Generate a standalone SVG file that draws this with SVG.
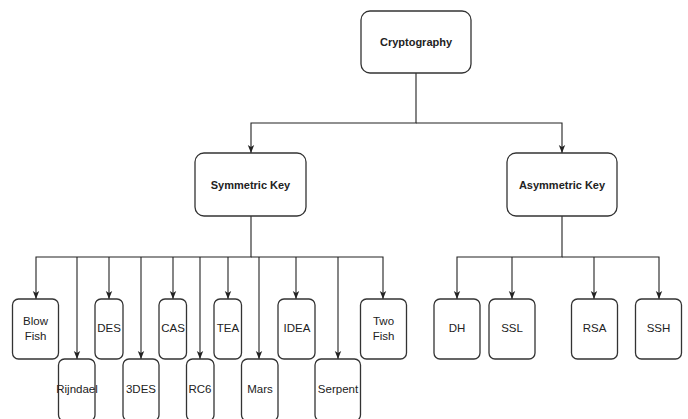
<svg xmlns="http://www.w3.org/2000/svg" width="688" height="419" viewBox="0 0 688 419">
<style>
.box{fill:#fff;stroke:#333;stroke-width:1.3}
.t{font-family:"Liberation Sans",Arial,sans-serif;font-size:11.5px;fill:#222;text-anchor:middle;dominant-baseline:central}
.b{font-weight:bold;font-size:11px}
.c{fill:none;stroke:#222;stroke-width:1.1}
</style>
<defs>
<marker id="ar" viewBox="0 0 10 8" refX="10" refY="4" markerWidth="8" markerHeight="8" markerUnits="userSpaceOnUse" orient="auto">
<path d="M0,0 L10,4 L0,8 L2.5,4 z" fill="#222"/>
</marker>
</defs>
<rect width="688" height="419" fill="#fff"/>
<g id="connectors">
<path class="c" d="M416 73 V123 H251 V153" marker-end="url(#ar)"/>
<path class="c" d="M416 123 H562 V153" marker-end="url(#ar)"/>
<path class="c" d="M251 216 V257 H36 V299" marker-end="url(#ar)"/>
<path class="c" d="M251 257 H383 V299" marker-end="url(#ar)"/>
<path class="c" d="M77 257 V359" marker-end="url(#ar)"/>
<path class="c" d="M109 257 V299" marker-end="url(#ar)"/>
<path class="c" d="M141 257 V359" marker-end="url(#ar)"/>
<path class="c" d="M173 257 V299" marker-end="url(#ar)"/>
<path class="c" d="M200 257 V359" marker-end="url(#ar)"/>
<path class="c" d="M228 257 V299" marker-end="url(#ar)"/>
<path class="c" d="M259 257 V359" marker-end="url(#ar)"/>
<path class="c" d="M296 257 V299" marker-end="url(#ar)"/>
<path class="c" d="M338 257 V359" marker-end="url(#ar)"/>
<path class="c" d="M562 216 V257 H457 V299" marker-end="url(#ar)"/>
<path class="c" d="M562 257 H659 V299" marker-end="url(#ar)"/>
<path class="c" d="M512 257 V299" marker-end="url(#ar)"/>
<path class="c" d="M594 257 V299" marker-end="url(#ar)"/>
</g>
<g id="cryptography"><rect class="box" x="361" y="11" width="110" height="62" rx="9"/><text class="t b" x="416" y="42">Cryptography</text></g>
<g id="symmetric"><rect class="box" x="195" y="153" width="111" height="63" rx="9"/><text class="t b" x="250.5" y="185">Symmetric Key</text></g>
<g id="asymmetric"><rect class="box" x="507" y="153" width="110" height="63" rx="9"/><text class="t b" x="562" y="185">Asymmetric Key</text></g>
<g id="blowfish"><rect class="box" x="12.5" y="299" width="46" height="60" rx="6"/><text class="t" x="35.5" y="321">Blow</text><text class="t" x="35.5" y="336">Fish</text></g>
<g id="rijndael"><rect class="box" x="58.5" y="359" width="36.5" height="62" rx="6"/><text class="t" x="77" y="389">Rijndael</text></g>
<g id="des"><rect class="box" x="95" y="299" width="28" height="60" rx="6"/><text class="t" x="109" y="328">DES</text></g>
<g id="3des"><rect class="box" x="123" y="359" width="36" height="62" rx="6"/><text class="t" x="141" y="389">3DES</text></g>
<g id="cas"><rect class="box" x="159" y="299" width="27.5" height="60" rx="6"/><text class="t" x="173" y="328">CAS</text></g>
<g id="rc6"><rect class="box" x="186.5" y="359" width="27.5" height="62" rx="6"/><text class="t" x="200" y="389">RC6</text></g>
<g id="tea"><rect class="box" x="214" y="299" width="27.5" height="60" rx="6"/><text class="t" x="228" y="328">TEA</text></g>
<g id="mars"><rect class="box" x="241.5" y="359" width="36.5" height="62" rx="6"/><text class="t" x="260" y="389">Mars</text></g>
<g id="idea"><rect class="box" x="278" y="299" width="37" height="60" rx="6"/><text class="t" x="297" y="328">IDEA</text></g>
<g id="serpent"><rect class="box" x="315" y="359" width="45.5" height="62" rx="6"/><text class="t" x="338" y="389">Serpent</text></g>
<g id="twofish"><rect class="box" x="360.5" y="299" width="46" height="60" rx="6"/><text class="t" x="383.5" y="321">Two</text><text class="t" x="383.5" y="336">Fish</text></g>
<g id="dh"><rect class="box" x="434" y="299" width="46" height="60" rx="6"/><text class="t" x="457" y="328">DH</text></g>
<g id="ssl"><rect class="box" x="489" y="299" width="46" height="60" rx="6"/><text class="t" x="512" y="328">SSL</text></g>
<g id="rsa"><rect class="box" x="571.5" y="299" width="46" height="60" rx="6"/><text class="t" x="594.5" y="328">RSA</text></g>
<g id="ssh"><rect class="box" x="635.5" y="299" width="46" height="60" rx="6"/><text class="t" x="658.5" y="328">SSH</text></g>
</svg>
